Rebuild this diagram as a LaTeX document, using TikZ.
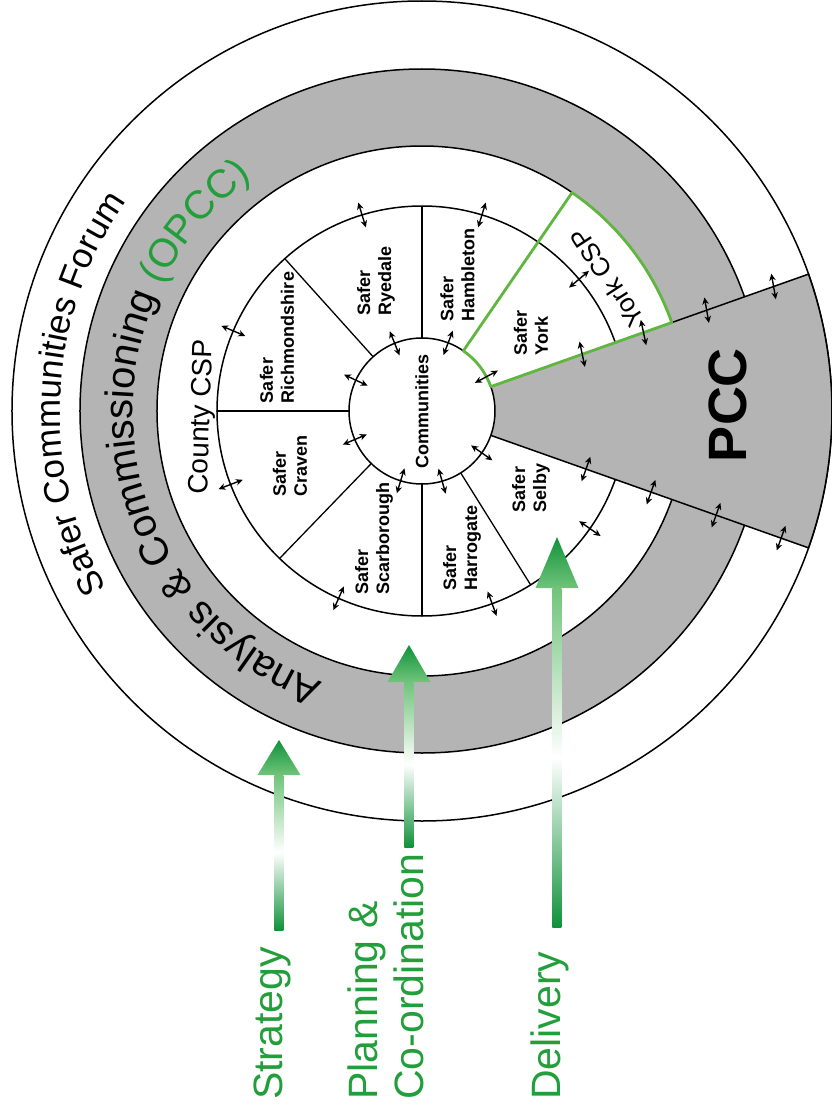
\documentclass[tikz,border=0pt]{standalone}
\usepackage{fontspec}
\setmainfont{Liberation Sans}
\usetikzlibrary{arrows.meta,decorations.text}
\definecolor{ringgray}{RGB}{180,180,180}
\definecolor{textgreen}{RGB}{34,158,58}
\definecolor{yorkgreen}{RGB}{96,182,62}
\definecolor{arrowdark}{RGB}{16,146,58}
\definecolor{arrowlight}{RGB}{112,196,122}

\begin{document}
\begin{tikzpicture}[x=1pt,y=1pt,
        ring/.style={draw=black,line width=1.5pt},
        sector/.style={font=\fontsize{18}{21}\selectfont\bfseries,rotate=90,align=left,inner sep=0pt},
        twoway/.style={{Stealth[length=7pt,width=6.5pt]}-{Stealth[length=7pt,width=6.5pt]},line width=1.4pt},
        level/.style={font=\fontsize{41}{46}\selectfont,text=textgreen,rotate=90,anchor=west,align=left,inner sep=0pt}]
  \useasboundingbox (-422,-709) rectangle (410,411);
  \fill[white] (-422,-709) rectangle (410,411);
  \draw[ring,fill=white] (0,0) circle (410);
  \draw[ring,fill=ringgray,even odd rule] (0,0) circle (342) (0,0) circle (265);
  \draw[ring] (0,0) circle (205);
  \fill[ringgray] (0,0) -- (-19.5:410) arc[start angle=-19.5,end angle=19.5,radius=410] -- cycle;
  \draw[ring] (-19.5:73) -- (-19.5:410) arc[start angle=-19.5,end angle=19.5,radius=410] -- (19.5:73);
  \foreach \a in {55.5,90,132,180,226,270,302}
    \draw[ring,line width=1.3pt] (\a:73) -- (\a:205);
  \draw[ring,fill=white] (0,0) circle (73);
  \draw[yorkgreen,line width=2.8pt,line join=round] (19.5:73) -- (19.5:265)
    arc[start angle=19.5,end angle=55.5,radius=265] -- (55.5:73)
    arc[start angle=55.5,end angle=19.5,radius=73] -- cycle;
  \path[decorate,decoration={text along path,text align=center,
      text={|\fontsize{35}{40}\selectfont|Safer Communities Forum}}]
    (222:362) arc[start angle=222,end angle=132,radius=362];
  \path[decorate,decoration={text along path,text align=center,
      text={|\fontsize{40}{46}\selectfont|Analysis {\&} Commissioning |\fontsize{40}{46}\selectfont\color{textgreen}|(OPCC)}}]
    (260:289) arc[start angle=260,end angle=116,radius=289];
  \node[sector] (comm) at (0,0) {Communities};
  \node[sector] (ryedale) at (-46,130) {Safer\\Ryedale};
  \node[sector] (hambleton) at (35.5,136) {Safer\\Hambleton};
  \node[sector] (richmond) at (-145,73.5) {Safer\\Richmondshire};
  \node[sector] (craven) at (-132,-55) {Safer\\Craven};
  \node[sector] (scarborough) at (-48,-127.5) {Safer\\Scarborough};
  \node[sector] (harrogate) at (40,-137) {Safer\\Harrogate};
  \node[sector] (selby) at (109,-77) {Safer\\Selby};
  \node[sector] (york) at (109,78) {Safer\\York};
  \node[font=\fontsize{54}{60}\selectfont\bfseries,rotate=90] (pcc) at (306,6) {PCC};
  \node[font=\fontsize{28}{32}\selectfont,rotate=88] (county) at (-219,-6) {County CSP};
  \node[font=\fontsize{26}{30}\selectfont,rotate=123] (yorkcsp) at (185,133) {York CSP};
  \foreach \a/\r/\d in {28/73/28,69/73/69,112/73/112,155/73/155,203/73/203,253/73/253,
      286/73/286,325/73/325,40/205/40,73/205/73,107/205/107,157/205/157,201/205/201,
      246/205/246,290/205/290,325/205/325,19.5/170/102,19.5/235/102,19.5/302/100,
      19.5/373/100,-19.5/174/70.5,-19.5/243/70.5,-19.5/312/70.5,-19.5/381/70.5}
    \draw[twoway] (\a:\r) ++(\d:-13) -- ++(\d:26);
  \foreach \x/\b/\h/\t in {-143/-519/-364/-329,-13/-436/-271/-234,135/-516/-177/-126}{
    \shade[top color=arrowlight,bottom color=arrowdark,middle color=white]
      (\x-4.5,\b) rectangle (\x+4.5,\h);
    \shade[top color=arrowdark,bottom color=arrowlight]
      (\x-21.5,\h) -- (\x,\t) -- (\x+21.5,\h) -- cycle;
  }
  \node[level] (strategy) at (-150,-689) {Strategy};
  \node[level] (planning) at (-36.5,-689) {Planning \&\\Co-ordination};
  \node[level] (delivery) at (128,-689) {Delivery};
\end{tikzpicture}
\end{document}
